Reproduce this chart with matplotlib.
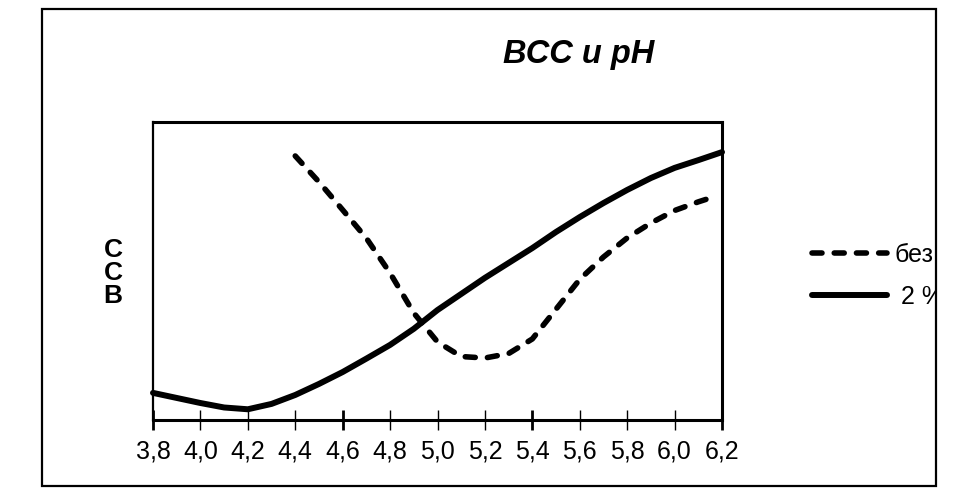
import matplotlib
matplotlib.use("Agg")
import matplotlib.pyplot as plt
from matplotlib.patches import Rectangle
from matplotlib.transforms import Bbox
from matplotlib.ticker import FixedLocator, FuncFormatter

plt.rcParams['font.family'] = ['Liberation Sans', 'DejaVu Sans']

title = "ВСС и рН"
ylabel_letters = ["С", "С", "В"]
series_names = ["без", " 2 %"]

ph_solid = [3.8, 3.9, 4.0, 4.1, 4.2, 4.3, 4.4, 4.5, 4.6, 4.7, 4.8, 4.9, 5.0,
            5.1, 5.2, 5.3, 5.4, 5.5, 5.6, 5.7, 5.8, 5.9, 6.0, 6.1, 6.2]
vss_solid = [9.1, 7.4, 5.7, 4.2, 3.6, 5.4, 8.4, 12.1, 16.1, 20.6, 25.2, 30.6, 36.9,
             42.3, 47.7, 52.7, 57.7, 63.1, 68.1, 72.8, 77.2, 81.2, 84.6, 87.2, 89.9]

ph_dash = [4.4, 4.5, 4.6, 4.7, 4.8, 4.9, 5.0, 5.1, 5.2, 5.3, 5.4, 5.5, 5.6,
           5.7, 5.8, 5.9, 6.0, 6.1, 6.17]
vss_dash = [88.6, 79.9, 70.5, 61.0, 49.3, 35.9, 26.2, 21.3, 20.8, 22.3, 27.2, 37.2, 47.2,
            54.7, 61.1, 66.1, 70.3, 73.2, 75.0]

W, H = 956, 503
fig = plt.figure(figsize=(W / 100, H / 100), dpi=100)
fig.patch.set_facecolor('white')

# outer chart border
fig.patches.append(Rectangle((42 / W, 1 - 486 / H), (936 - 42) / W, (486 - 9) / H,
                             transform=fig.transFigure, fill=False, lw=1.6,
                             edgecolor='black', zorder=0))

ax = fig.add_axes([153 / W, 1 - 420 / H, (722 - 153) / W, (420 - 122) / H])
ax.set_xlim(3.8, 6.2)
ax.set_ylim(0, 100)

l1, = ax.plot(ph_dash, vss_dash, color='black', lw=4.0, linestyle=(0, (1.8, 2.2)),
              dash_capstyle='round', dash_joinstyle='round', label=series_names[0])
l2, = ax.plot(ph_solid, vss_solid, color='black', lw=4.3, solid_capstyle='round',
              solid_joinstyle='round', label=series_names[1])
for l in (l1, l2):
    l.set_clip_on(False)

for s in ax.spines.values():
    s.set_linewidth(2.2)
ax.spines['left'].set_linewidth(1.6)

ax.yaxis.set_visible(False)
fmt = FuncFormatter(lambda v, p: f"{v:.1f}".replace('.', ','))
ax.xaxis.set_major_locator(FixedLocator([3.8, 4.6, 5.4, 6.2]))
ax.xaxis.set_minor_locator(FixedLocator([4.0, 4.2, 4.4, 4.8, 5.0, 5.2, 5.6, 5.8, 6.0]))
ax.xaxis.set_major_formatter(fmt)
ax.xaxis.set_minor_formatter(fmt)
ax.tick_params(axis='x', which='major', direction='inout', length=14, width=2.0,
               labelsize=18, pad=7)
ax.tick_params(axis='x', which='minor', direction='inout', length=14, width=1.0,
               labelsize=18, pad=7)

fig.text(579 / W, 1 - 55 / H, title, ha='center', va='center', fontsize=23.5,
         fontweight='bold', fontstyle='italic')

for letter, yp in zip(ylabel_letters, [250, 273, 296]):
    fig.text(113 / W, 1 - yp / H, letter, ha='center', va='center', fontsize=19,
             fontweight='bold')

leg = fig.legend(handles=[l1, l2], labels=series_names, loc='upper left',
                 bbox_to_anchor=(812 / W, 1 - 243 / H), frameon=False, fontsize=18,
                 handlelength=3.0, handletextpad=0.28, labelspacing=0.72,
                 borderpad=0, borderaxespad=0)
clipbox = Bbox.from_extents(0, 0, 935, H)
for t in leg.get_texts():
    t.set_clip_box(clipbox)
    t.set_clip_on(True)

fig.savefig("out.png", dpi=100, facecolor='white')
